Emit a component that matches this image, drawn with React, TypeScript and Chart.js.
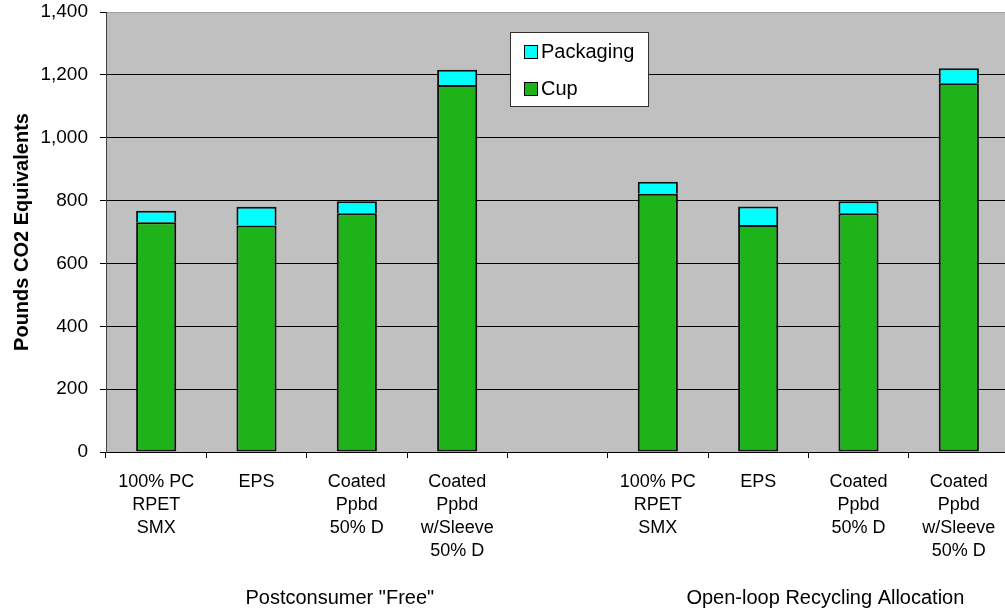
import { useEffect, useRef } from "react";
import { Chart, registerables } from "chart.js";

Chart.register(...registerables);

const categories: string[][] = [
  ["100% PC", "RPET", "SMX"],
  ["EPS"],
  ["Coated", "Ppbd", "50% D"],
  ["Coated", "Ppbd", "w/Sleeve", "50% D"],
  [""],
  ["100% PC", "RPET", "SMX"],
  ["EPS"],
  ["Coated", "Ppbd", "50% D"],
  ["Coated", "Ppbd", "w/Sleeve", "50% D"],
];

const cupValues: (number | null)[] = [731, 721, 760, 1168, null, 822, 722, 760, 1173];
const packagingValues: (number | null)[] = [37, 59, 38, 48, null, 38, 59, 38, 48];

const seriesNames = ["Cup", "Packaging"];
const seriesColors = ["#1FB31A", "#00FFFF"];

const yMin = 0;
const yMax = 1400;
const yStep = 200;

const groupLabels = ['Postconsumer "Free"', "Open-loop Recycling Allocation"];
const yAxisTitle = "Pounds CO2 Equivalents";

const FONT = "'Liberation Sans', Arial, Helvetica, sans-serif";

const backgroundPlugin = {
  id: "plotBackground",
  beforeDraw(chart: any) {
    const { ctx, chartArea, width, height } = chart;
    ctx.save();
    ctx.fillStyle = "#ffffff";
    ctx.fillRect(0, 0, width, height);
    ctx.fillStyle = "#C0C0C0";
    ctx.fillRect(chartArea.left, chartArea.top, chartArea.right - chartArea.left, chartArea.bottom - chartArea.top);
    ctx.restore();
  },
};

const overlayPlugin = {
  id: "overlay",
  afterDraw(chart: any) {
    const { ctx, chartArea } = chart;
    const xScale = chart.scales.x;
    const catW = (xScale.right - xScale.left) / categories.length;
    ctx.save();
    ctx.fillStyle = "#000";
    ctx.font = `20px ${FONT}`;
    ctx.textAlign = "center";
    ctx.textBaseline = "middle";
    const anchors = [2.33, 7.17];
    groupLabels.forEach((t, i) => {
      ctx.fillText(t, xScale.left + anchors[i] * catW, 598);
    });

    const lx = chartArea.left + 404;
    const ly = 32;
    const lw = 138;
    const lh = 74;
    ctx.fillStyle = "#ffffff";
    ctx.fillRect(lx, ly, lw, lh);
    ctx.strokeStyle = "#303030";
    ctx.lineWidth = 1;
    ctx.strokeRect(lx + 0.5, ly + 0.5, lw, lh);

    const items = [
      { name: seriesNames[1], color: seriesColors[1] },
      { name: seriesNames[0], color: seriesColors[0] },
    ];
    items.forEach((it, i) => {
      const sy = ly + 13 + i * 37;
      ctx.fillStyle = it.color;
      ctx.fillRect(lx + 14, sy, 13, 13);
      ctx.strokeStyle = "#000";
      ctx.strokeRect(lx + 14.5, sy + 0.5, 13, 13);
      ctx.fillStyle = "#000";
      ctx.font = `20px ${FONT}`;
      ctx.textAlign = "left";
      ctx.textBaseline = "middle";
      ctx.fillText(it.name, lx + 31, sy + 7.5);
    });
    ctx.restore();
  },
};

export default function App() {
  const canvasRef = useRef<HTMLCanvasElement | null>(null);

  useEffect(() => {
    const canvas = canvasRef.current;
    if (!canvas) return;
    const chart = new Chart(canvas, {
      type: "bar",
      data: {
        labels: categories,
        datasets: [
          {
            label: seriesNames[0],
            data: cupValues,
            backgroundColor: seriesColors[0],
            borderColor: "#111111",
            borderWidth: 2,
            borderSkipped: false,
            stack: "s",
            categoryPercentage: 1,
            barPercentage: 0.4,
          },
          {
            label: seriesNames[1],
            data: packagingValues,
            backgroundColor: seriesColors[1],
            borderColor: "#111111",
            borderWidth: 2,
            borderSkipped: "start",
            stack: "s",
            categoryPercentage: 1,
            barPercentage: 0.4,
          },
        ],
      },
      options: {
        responsive: false,
        animation: false,
        devicePixelRatio: 1,
        layout: { padding: { top: 12, right: 1, bottom: 0, left: 0 } },
        plugins: {
          legend: { display: false },
          tooltip: { enabled: false },
        },
        scales: {
          x: {
            stacked: true,
            grid: {
              offset: true,
              drawOnChartArea: false,
              drawTicks: true,
              tickLength: 6,
              color: "#000000",
            },
            border: { color: "#000000", width: 1 },
            ticks: {
              autoSkip: false,
              maxRotation: 0,
              minRotation: 0,
              padding: 13,
              color: "#000000",
              font: { family: FONT, size: 18, lineHeight: 1.27 },
            },
            afterFit: (scale: any) => {
              scale.height = 160;
              scale.paddingLeft = 0;
              scale.paddingRight = 0;
            },
          },
          y: {
            stacked: true,
            min: yMin,
            max: yMax,
            ticks: {
              stepSize: yStep,
              padding: 12,
              color: "#000000",
              font: { family: FONT, size: 19, lineHeight: 1 },
              callback: (v: any) => Number(v).toLocaleString("en-US"),
            },
            grid: {
              color: (ctx: any) => (ctx.tick && ctx.tick.value === yMax ? "#A0A0A0" : "#000000"),
              tickColor: "#000000",
              tickLength: 6,
              lineWidth: 1,
            },
            border: { color: "#404040", width: 1 },
            title: {
              display: true,
              text: yAxisTitle,
              color: "#000000",
              font: { family: FONT, size: 20, weight: "bold", lineHeight: 1.2 },
              padding: { top: 10, bottom: 0 },
            },
            afterFit: (scale: any) => {
              scale.width = 106;
              scale.paddingTop = 0;
              scale.paddingBottom = 0;
            },
          },
        },
      },
      plugins: [backgroundPlugin, overlayPlugin],
    } as any);
    return () => chart.destroy();
  }, []);

  return (
    <div
      style={{
        position: "absolute",
        left: 0,
        top: 0,
        width: 1005,
        height: 612,
        overflow: "hidden",
        background: "#fff",
      }}
    >
      <canvas ref={canvasRef} width={1010} height={612} style={{ width: 1010, height: 612, display: "block" }} />
    </div>
  );
}
